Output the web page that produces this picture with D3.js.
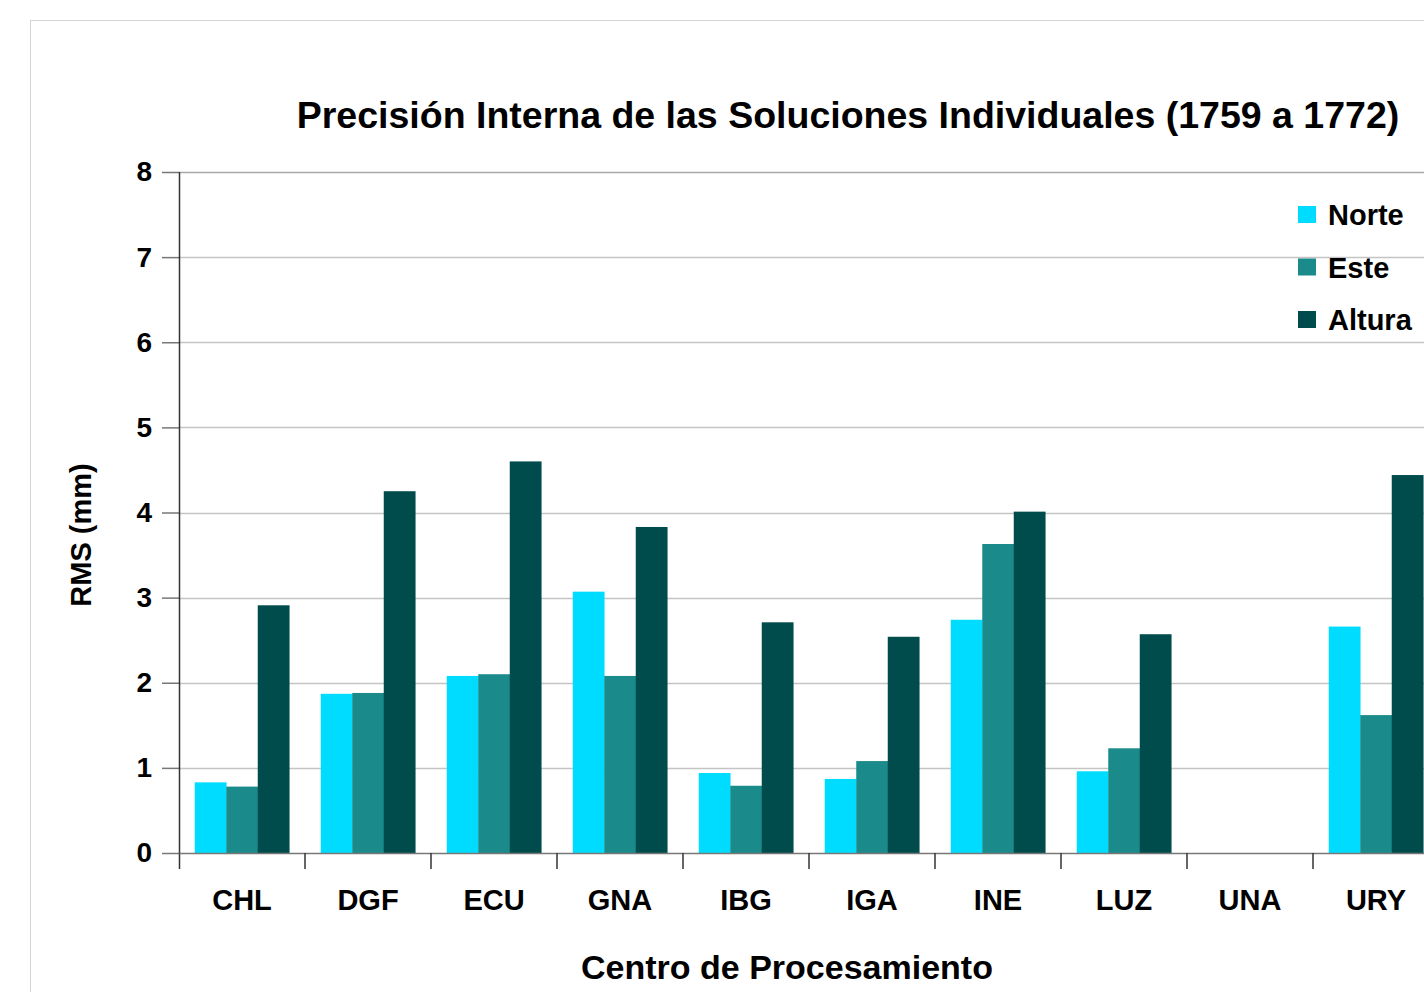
<!DOCTYPE html>
<html>
<head>
<meta charset="utf-8">
<script src="https://cdn.jsdelivr.net/npm/d3@7"></script>
<style>
  body { margin: 0; background: #fff; }
  svg { font-family: "Liberation Sans", Arial, sans-serif; font-weight: bold; }
</style>
</head>
<body>
<div id="chart"></div>
<script>
// data
const centros = ["CHL", "DGF", "ECU", "GNA", "IBG", "IGA", "INE", "LUZ", "UNA", "URY"];
const norte  = [0.83, 1.87, 2.08, 3.07, 0.94, 0.87, 2.74, 0.96, 0, 2.66];
const este   = [0.78, 1.88, 2.10, 2.08, 0.79, 1.08, 3.63, 1.23, 0, 1.62];
const altura = [2.91, 4.25, 4.60, 3.83, 2.71, 2.54, 4.01, 2.57, 0, 4.44];
const yTicks = [0, 1, 2, 3, 4, 5, 6, 7, 8];
const seriesNames = ["Norte", "Este", "Altura"];

const series = [norte, este, altura];
const data = centros.map((c, i) => ({ centro: c, vals: series.map(s => s[i]) }));

const svg = d3.select("#chart")
    .append("svg")
    .attr("width", 1424)
    .attr("height", 992);

// outer frame
svg.append("rect")
    .attr("x", 30.5).attr("y", 20.5)
    .attr("width", 1500).attr("height", 1000)
    .attr("fill", "#fff")
    .attr("stroke", "#d4d4d4");

const margin = { left: 179, top: 172 };
const width = 1260, height = 681;

const g = svg.append("g")
    .attr("transform", `translate(${margin.left},${margin.top})`);

const x = d3.scaleBand()
    .domain(centros)
    .range([0, width])
    .paddingInner(0)
    .paddingOuter(0);

const x1 = d3.scaleBand()
    .domain(seriesNames)
    .range([x.bandwidth() * 0.125, x.bandwidth() * 0.875]);

const y = d3.scaleLinear()
    .domain([0, 8])
    .range([height, 0]);

const color = d3.scaleOrdinal()
    .domain(seriesNames)
    .range(["#00dcff", "#1a8a8a", "#004c4c"]);

// gridlines
g.append("g")
    .selectAll("line")
    .data(yTicks.filter(d => d > 0))
    .join("line")
    .attr("x1", 0).attr("x2", width)
    .attr("y1", d => Math.round(y(d)) + 0.5)
    .attr("y2", d => Math.round(y(d)) + 0.5)
    .attr("stroke", d => d === 8 ? "#a8a8a8" : "#c4c4c4")
    .attr("stroke-width", 1.5);

// bars
g.append("g")
    .selectAll("g")
    .data(data)
    .join("g")
    .attr("transform", d => `translate(${x(d.centro)},0)`)
    .selectAll("rect")
    .data(d => d.vals.map((v, i) => ({ key: seriesNames[i], v })))
    .join("rect")
    .attr("x", d => x1(d.key))
    .attr("width", x1.bandwidth() + 0.3)
    .attr("y", d => y(d.v))
    .attr("height", d => y(0) - y(d.v))
    .attr("fill", d => color(d.key));

// y axis
const yAxis = g.append("g")
    .call(d3.axisLeft(y).tickValues(yTicks).tickSize(17).tickPadding(10).tickFormat(d3.format("d")));
yAxis.select(".domain").remove();
yAxis.selectAll(".tick line").attr("stroke", "#777").attr("stroke-width", 1.5);
yAxis.selectAll(".tick text")
    .attr("font-size", 28)
    .attr("font-weight", "bold")
    .attr("font-family", "Liberation Sans, Arial, sans-serif")
    .attr("fill", "#000");

g.append("line")
    .attr("x1", 0.5).attr("x2", 0.5)
    .attr("y1", 0).attr("y2", height + 16)
    .attr("stroke", "#333").attr("stroke-width", 1.5);

// x axis
const xAxis = g.append("g")
    .attr("transform", `translate(0,${height})`)
    .call(d3.axisBottom(x).tickSize(0).tickPadding(36));
xAxis.select(".domain").attr("stroke", "#777").attr("stroke-width", 1.5);
xAxis.selectAll(".tick text")
    .attr("font-size", 29)
    .attr("font-weight", "bold")
    .attr("font-family", "Liberation Sans, Arial, sans-serif")
    .attr("fill", "#000");

g.append("g")
    .selectAll("line")
    .data(centros.slice(1).concat(["end"]))
    .join("line")
    .attr("x1", (d, i) => x.step() * (i + 1))
    .attr("x2", (d, i) => x.step() * (i + 1))
    .attr("y1", height).attr("y2", height + 16)
    .attr("stroke", "#333").attr("stroke-width", 1.5);

// titles
svg.append("text")
    .attr("x", 848).attr("y", 128)
    .attr("text-anchor", "middle")
    .attr("font-size", 37.5)
    .text("Precisión Interna de las Soluciones Individuales (1759 a 1772)");

svg.append("text")
    .attr("x", 787).attr("y", 979)
    .attr("text-anchor", "middle")
    .attr("font-size", 34)
    .text("Centro de Procesamiento");

svg.append("text")
    .attr("transform", "translate(91,535) rotate(-90)")
    .attr("text-anchor", "middle")
    .attr("font-size", 29)
    .text("RMS (mm)");

// legend
const legend = svg.append("g")
    .attr("transform", "translate(1298,206)")
    .selectAll("g")
    .data(seriesNames)
    .join("g")
    .attr("transform", (d, i) => `translate(0,${i * 52.5})`);

legend.append("rect")
    .attr("width", 18).attr("height", 17)
    .attr("fill", color);

legend.append("text")
    .attr("x", 30).attr("y", 19)
    .attr("font-size", 29)
    .text(d => d);
</script>
</body>
</html>
